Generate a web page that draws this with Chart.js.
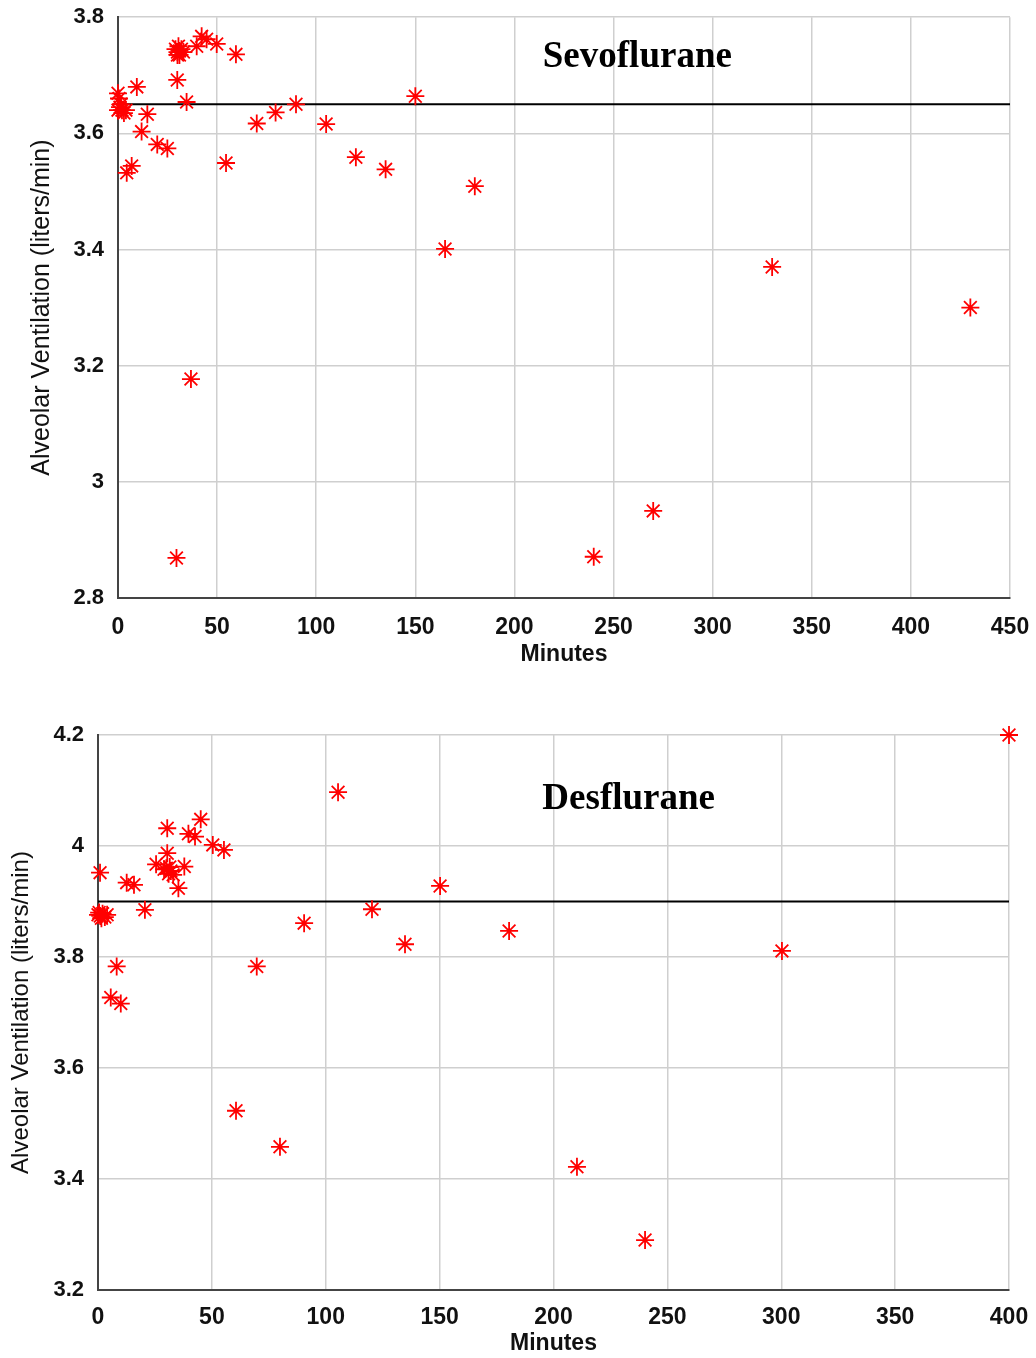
<!DOCTYPE html>
<html>
<head>
<meta charset="utf-8">
<script src="https://cdn.jsdelivr.net/npm/chart.js@4"></script>
<style>
  body { margin: 0; background: #fff; overflow: hidden; }
  .wrap { position: absolute; left: 0; width: 1050px; }
</style>
</head>
<body>
<div class="wrap" style="top:-10px;height:690px"><canvas id="sevo"></canvas></div>
<div class="wrap" style="top:680px;height:678px"><canvas id="des"></canvas></div>
<script>
// Sevoflurane: minutes and alveolar ventilation (liters/min)
const sevoMinutes = [0, 0.5, 1, 2, 3, 0, 4, 1.5,
  9.5, 14.8, 11.9, 19.8, 24.9, 6.9, 4.4, 29.9, 34.6,
  29, 30, 31, 30.5, 32, 31, 30, 33,
  39.7, 42.2, 44.7, 49.8, 59.5, 54.5, 70, 79.5, 89.8,
  105, 120, 135, 150, 165, 180, 240, 270, 330, 430, 36.8, 29.5]
const sevoVent = [3.669, 3.66, 3.645, 3.64, 3.635, 3.64, 3.64, 3.65,
  3.68, 3.633, 3.603, 3.581, 3.574, 3.544, 3.532, 3.692, 3.654,
  3.745, 3.74, 3.735, 3.75, 3.745, 3.742, 3.735, 3.74,
  3.75, 3.767, 3.762, 3.754, 3.736, 3.549, 3.617, 3.636, 3.65,
  3.616, 3.559, 3.538, 3.664, 3.401, 3.509, 2.871, 2.95, 3.37, 3.3, 3.177, 2.869]
const sevoBaseline = 3.65

// Desflurane
const desMinutes = [0, 1, 2, 3, 4, 1.5, 0.5,
  0.9, 12.6, 15.8, 20.6, 8.2, 5.6, 10,
  25.5, 30.4, 30.4, 30, 31, 32, 29, 33, 31.5, 37.9, 35.3, 39.7, 42.6, 45.1, 50.4, 55.3,
  60.6, 69.7, 79.9, 90.5, 105.4, 120.3, 134.8, 150.2, 180.5, 210.3, 240.2, 300.3, 400]
const desVent = [3.876, 3.874, 3.878, 3.872, 3.876, 3.87, 3.88,
  3.952, 3.934, 3.93, 3.885, 3.783, 3.727, 3.716,
  3.967, 3.987, 4.032, 3.96, 3.95, 3.955, 3.958, 3.948, 3.962, 3.963, 3.924, 4.022, 4.017, 4.048, 4.002, 3.993,
  3.523, 3.783, 3.458, 3.861, 4.097, 3.886, 3.823, 3.928, 3.847, 3.422, 3.29, 3.811, 4.2]
const desBaseline = 3.9

const font = "'Liberation Sans', Arial, sans-serif"

// draws the drug name inside the plot at a data position
const labelPlugin = {
  id: 'drugLabel',
  afterDatasetsDraw(chart, args, opts) {
    let ctx = chart.ctx
    let px = chart.scales.x.getPixelForValue(opts.x)
    let py = chart.scales.y.getPixelForValue(opts.y)
    ctx.save()
    ctx.font = "bold 37px 'Liberation Serif', 'Times New Roman', serif"
    ctx.fillStyle = '#000'
    ctx.textAlign = 'center'
    ctx.textBaseline = 'middle'
    ctx.fillText(opts.text, px, py)
    ctx.restore()
  }
}

function makeChart(id, xs, ys, base, cfg) {
  let points = xs.map((x, i) => ({ x: x, y: ys[i] }))
  return new Chart(document.getElementById(id), {
    type: 'scatter',
    data: {
      datasets: [{
        data: points,
        pointStyle: 'star',
        radius: 9,
        borderColor: '#ff0000',
        backgroundColor: '#ff0000',
        borderWidth: 1.8,
        clip: false
      },
      {
        type: 'line',
        data: [{ x: 0, y: base }, { x: cfg.xMax, y: base }],
        borderColor: '#000',
        borderWidth: 2,
        pointRadius: 0
      }]
    },
    options: {
      responsive: true,
      maintainAspectRatio: false,
      animation: false,
      layout: { padding: { top: cfg.padTop, right: cfg.padRight, left: 0, bottom: 0 } },
      scales: {
        x: {
          type: 'linear',
          min: 0,
          max: cfg.xMax,
          ticks: { stepSize: 50, color: '#111', padding: cfg.xTickPad, font: { family: font, size: 23, weight: 'bold' } },
          grid: { color: '#cfcfcf', lineWidth: 1.5, drawTicks: false },
          border: { color: '#444', width: 2 },
          title: { display: true, text: 'Minutes', color: '#111', padding: { bottom: cfg.xTitlePad, top: 0 }, font: { family: font, size: 23, weight: 'bold' } },
          afterFit: function (scale) { scale.height = cfg.xHeight }
        },
        y: {
          min: cfg.yMin,
          max: cfg.yMax,
          ticks: {
            stepSize: 0.2, color: '#111', padding: 14, font: { family: font, size: 22, weight: 'bold' },
            callback: function (value) { return String(Number(value.toFixed(1))) }
          },
          grid: { color: '#cfcfcf', lineWidth: 1.5, drawTicks: false },
          border: { color: '#444', width: 2 },
          title: { display: true, text: 'Alveolar Ventilation (liters/min)', color: '#111', padding: { top: cfg.yTitlePad, bottom: 0 }, font: { family: font, size: cfg.yTitleSize } },
          afterFit: function (scale) { scale.width = cfg.yWidth }
        }
      },
      plugins: {
        legend: { display: false },
        tooltip: { enabled: false },
        drugLabel: cfg.label
      }
    },
    plugins: [labelPlugin]
  })
}

makeChart('sevo', sevoMinutes, sevoVent, sevoBaseline, {
  xMax: 450, yMin: 2.8, yMax: 3.8,
  padTop: 27, padRight: 40, yWidth: 118, xHeight: 82,
  xTickPad: 16, xTitlePad: 12, yTitlePad: 27, yTitleSize: 25,
  label: { text: 'Sevoflurane', x: 262, y: 3.731 }
})

makeChart('des', desMinutes, desVent, desBaseline, {
  xMax: 400, yMin: 3.2, yMax: 4.2,
  padTop: 55, padRight: 41, yWidth: 98, xHeight: 68,
  xTickPad: 14, xTitlePad: 1, yTitlePad: 7, yTitleSize: 24,
  label: { text: 'Desflurane', x: 233, y: 4.083 }
})
</script>
</body>
</html>
